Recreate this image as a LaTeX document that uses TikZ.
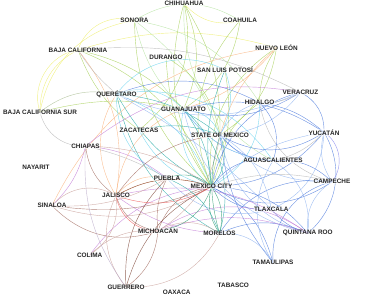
\documentclass[tikz,border=0pt]{standalone}
\usepackage{fontspec}
\setmainfont{Liberation Sans}
\pgfdeclarelayer{bg}
\pgfsetlayers{bg,main}
\definecolor{cY}{HTML}{EEEE6A}
\definecolor{cLG}{HTML}{B5E3A0}
\definecolor{cL}{HTML}{A5CF55}
\definecolor{cGG}{HTML}{A8BC90}
\definecolor{cO}{HTML}{F9B07A}
\definecolor{cC}{HTML}{66D2EE}
\definecolor{cT}{HTML}{22A8A4}
\definecolor{cB}{HTML}{4A78DC}
\definecolor{cLB}{HTML}{8DB2F0}
\definecolor{cP}{HTML}{8585EE}
\definecolor{cPu}{HTML}{C27BD6}
\definecolor{cBr}{HTML}{A0675C}
\definecolor{cR}{HTML}{C9A09A}
\definecolor{cDB}{HTML}{7A3F30}
\definecolor{cRed}{HTML}{EE5555}
\definecolor{cDG}{HTML}{2A9A6E}
\definecolor{cG}{HTML}{B5B5B5}
\definecolor{cLav}{HTML}{B8A8C8}
\tikzset{
  lbl/.style={font=\fontsize{6.4}{7}\selectfont\bfseries, text=black!85, inner sep=0.4pt,
    fill=white, fill opacity=0.55, text opacity=1},
  edge/.style={line width=0.42pt, opacity=0.8}
}
\begin{document}
\begin{tikzpicture}[x=1pt,y=-1pt]
\useasboundingbox (0,0) rectangle (374,296);
\node[lbl] (chih) at (184,3.5) {CHIHUAHUA};
\node[lbl] (son) at (134.5,20.5) {SONORA};
\node[lbl] (coa) at (240,20.7) {COAHUILA};
\node[lbl] (bc) at (78,50) {BAJA CALIFORNIA};
\node[lbl] (dur) at (166,57) {DURANGO};
\node[lbl] (nl) at (276.5,47.7) {NUEVO LEÓN};
\node[lbl] (slp) at (225,70) {SAN LUIS POTOSÍ};
\node[lbl] (bcs) at (40,112) {BAJA CALIFORNIA SUR};
\node[lbl] (qro) at (116.5,94) {QUERÉTARO};
\node[lbl] (gto) at (183.5,109) {GUANAJUATO};
\node[lbl] (ver) at (300.5,92.3) {VERACRUZ};
\node[lbl] (hgo) at (259.5,102.7) {HIDALGO};
\node[lbl] (zac) at (139,130) {ZACATECAS};
\node[lbl] (yuc) at (324,132.3) {YUCATÁN};
\node[lbl] (edomex) at (220,135) {STATE OF MEXICO};
\node[lbl] (chis) at (85.5,146) {CHIAPAS};
\node[lbl] (nay) at (36,167.7) {NAYARIT};
\node[lbl] (ags) at (273,160.7) {AGUASCALIENTES};
\node[lbl] (camp) at (332,181.7) {CAMPECHE};
\node[lbl] (pue) at (167,178.3) {PUEBLA};
\node[lbl] (cdmx) at (211.5,186.7) {MEXICO CITY};
\node[lbl] (jal) at (116,195.7) {JALISCO};
\node[lbl] (sin) at (52,205.7) {SINALOA};
\node[lbl] (tlax) at (271.3,209.3) {TLAXCALA};
\node[lbl] (mich) at (158,231) {MICHOACÁN};
\node[lbl] (mor) at (219.5,233.3) {MORELOS};
\node[lbl] (qroo) at (307.8,233.3) {QUINTANA ROO};
\node[lbl] (col) at (89.7,255) {COLIMA};
\node[lbl] (tamps) at (273,262.7) {TAMAULIPAS};
\node[lbl] (gro) at (126,287.3) {GUERRERO};
\node[lbl] (oax) at (176.7,292.3) {OAXACA};
\node[lbl] (tab) at (233.3,285.7) {TABASCO};
\begin{pgfonlayer}{bg}
\foreach \a/\b/\c/\k [evaluate=\k as \kk using \k*1.6] in {
 bc/bcs/cY/-20, bc/bcs/cY/-32, bcs/son/cY/22, bc/son/cY/28, bc/nl/cY/10, chih/coa/cY/-20,
 son/hgo/cLG/15, son/gto/cLG/-10, son/edomex/cLG/10, chih/ags/cLG/-20, coa/son/cLG/-20,
 bc/zac/cL/-10, bc/cdmx/cL/15, bc/gto/cL/10, bcs/gto/cL/8, chih/cdmx/cL/-15, chih/gto/cL/15,
 chih/zac/cL/20, dur/cdmx/cL/-10, coa/cdmx/cL/-20, coa/gto/cL/15, nl/cdmx/cL/-20, nl/hgo/cL/-10,
 nl/edomex/cL/15, slp/cdmx/cL/10, hgo/cdmx/cL/-15, son/cdmx/cL/-15, chih/edomex/cL/10, dur/edomex/cL/15,
 bcs/qro/cGG/15,
 bc/jal/cO/15, nl/sin/cO/-18, nl/edomex/cO/-10, nl/gto/cO/10, jal/pue/cO/20,
 jal/cdmx/cO/15, jal/qro/cO/20, jal/gto/cO/20,
 qro/gto/cC/20, qro/edomex/cT/10, qro/cdmx/cT/-10, qro/cdmx/cC/15, qro/ags/cC/20, qro/hgo/cB/15,
 qro/tlax/cLB/5, qro/mor/cT/-15, qro/pue/cC/-20, qro/slp/cC/25, gto/cdmx/cT/10, gto/cdmx/cC/-20,
 gto/edomex/cC/20, gto/ags/cC/-15, gto/mor/cT/20, slp/cdmx/cT/-10, slp/edomex/cC/15, edomex/cdmx/cT/20,
 zac/cdmx/cC/-15, zac/edomex/cT/10, hgo/cdmx/cC/20,
 yuc/camp/cP/30, yuc/camp/cLB/-15, yuc/qroo/cB/25, yuc/cdmx/cB/15, yuc/cdmx/cLB/-10, yuc/edomex/cB/20,
 yuc/hgo/cB/-10, yuc/gto/cB/-15, yuc/ags/cG/10, yuc/tlax/cLB/20, yuc/ver/cB/-20,
 camp/cdmx/cB/20, camp/cdmx/cG/-10, camp/ags/cB/-15, camp/edomex/cLB/15, camp/qroo/cLB/-20,
 camp/hgo/cG/20, camp/mor/cB/-20,
 qroo/cdmx/cB/-15, qroo/edomex/cLB/20, qroo/ags/cLB/-20, qroo/tlax/cB/10, qroo/mor/cB/-15, qroo/gto/cLB/20,
 tamps/cdmx/cB/-15, tamps/ags/cLB/20, tamps/camp/cB/25, tamps/edomex/cB/10, tamps/mor/cLB/-20,
 ver/cdmx/cB/-20, ver/edomex/cLB/15, ver/gto/cB/15, ver/qro/cLB/15, ver/hgo/cG/10,
 tlax/cdmx/cB/15, tlax/edomex/cLB/-15, tlax/pue/cLB/20,
 ags/cdmx/cB/-20, ags/edomex/cB/15, ags/gto/cLB/15, hgo/edomex/cLB/-15, hgo/ags/cB/20,
 chis/ver/cPu/15, chis/sin/cPu/10, qroo/mich/cPu/-12, qroo/mich/cPu/-22, qroo/jal/cPu/-15,
 col/cdmx/cPu/15, jal/mor/cPu/-10, chis/pue/cPu/10,
 sin/cdmx/cR/-15, sin/cdmx/cBr/-9, sin/pue/cR/-10, sin/mich/cBr/-20, jal/cdmx/cDB/15,
 jal/mich/cBr/-20, jal/edomex/cBr/15, mich/cdmx/cBr/20, mich/edomex/cR/-15, mich/pue/cBr/10,
 gro/cdmx/cDB/15, gro/mich/cBr/-15, gro/mor/cR/-20, gro/jal/cR/20, col/jal/cR/-20, col/mich/cR/15,
 chis/jal/cBr/-15, chis/gro/cLav/-12, chis/cdmx/cR/10, gro/pue/cDB/15, mich/mor/cR/20,
 sin/jal/cR/25, chis/pue/cG/5,
 jal/mich/cRed/-25, jal/cdmx/cRed/-15,
 cdmx/mor/cDG/15, cdmx/mor/cDG/-15, pue/cdmx/cDG/20, edomex/mor/cDG/-10, mich/cdmx/cDG/-20, pue/mor/cT/15,
 bcs/chis/cG/-25, bc/ver/cG/10, bc/qro/cG/-5}
 \draw[edge, draw=\c, bend left=\kk] (\a.center) to (\b.center);
\end{pgfonlayer}
\end{tikzpicture}
\end{document}
